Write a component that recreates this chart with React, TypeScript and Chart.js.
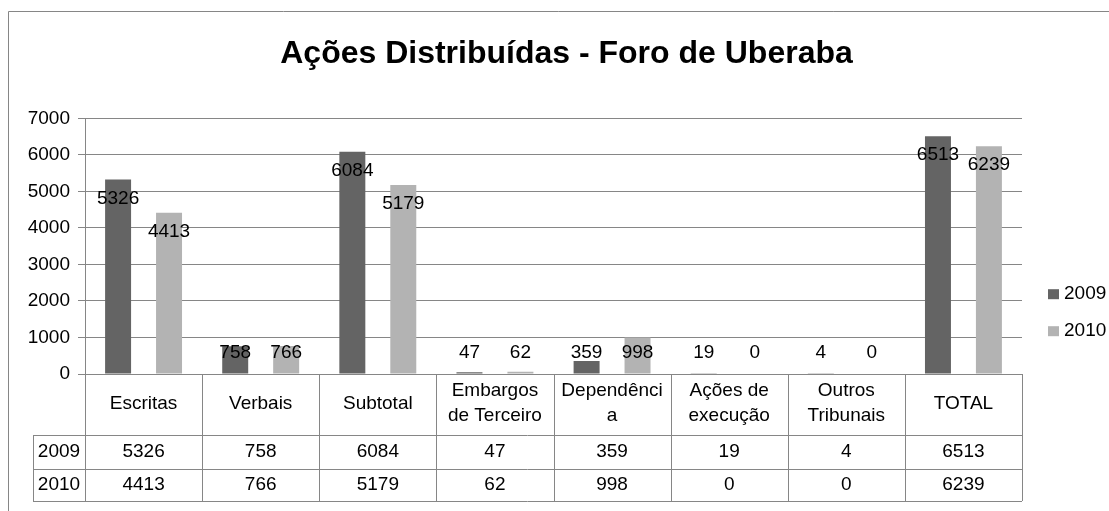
import React, { useEffect, useRef } from "react";
import { Chart, registerables } from "chart.js";

Chart.register(...registerables);

const chartTitle = "Ações Distribuídas - Foro de Uberaba";
const categories: string[][] = [
  ["Escritas"],
  ["Verbais"],
  ["Subtotal"],
  ["Embargos", "de Terceiro"],
  ["Dependênci", "a"],
  ["Ações de", "execução"],
  ["Outros", "Tribunais"],
  ["TOTAL"],
];
const seriesNames = ["2009", "2010"];
const values2009 = [5326, 758, 6084, 47, 359, 19, 4, 6513];
const values2010 = [4413, 766, 5179, 62, 998, 0, 0, 6239];
const seriesColors = ["#646464", "#b3b3b3"];
const yMin = 0;
const yMax = 7000;
const yStep = 1000;

const FONT = "'Liberation Sans', Arial, Helvetica, sans-serif";
const LINE = "#868686";

const px = (v: number) => Math.round(v) + 0.5;

const excelPlugin = {
  id: "excelExtras",
  afterDatasetsDraw(chart: any) {
    const ctx = chart.ctx;
    const yScale = chart.scales.y;
    const base = yScale.bottom;
    ctx.save();
    ctx.font = `19px ${FONT}`;
    ctx.fillStyle = "#000";
    ctx.textAlign = "center";
    ctx.textBaseline = "middle";
    chart.data.datasets.forEach((ds: any, di: number) => {
      const meta = chart.getDatasetMeta(di);
      meta.data.forEach((bar: any, i: number) => {
        const y = Math.min(bar.y + 19, base - 21);
        ctx.fillText(String(ds.data[i]), bar.x, y);
      });
    });
    ctx.restore();
  },
  afterDraw(chart: any) {
    const ctx = chart.ctx;
    const xScale = chart.scales.x;
    const yScale = chart.scales.y;
    const n = chart.data.labels.length;
    const half = (xScale.getPixelForValue(1) - xScale.getPixelForValue(0)) / 2;
    const bounds: number[] = [];
    for (let k = 0; k < n; k++) bounds.push(xScale.getPixelForValue(k) - half);
    bounds.push(xScale.getPixelForValue(n - 1) + half);

    const top = yScale.bottom;
    const headerBottom = top + 61;
    const row1Bottom = headerBottom + 34;
    const row2Bottom = row1Bottom + 32;
    const labelLeft = 33;

    ctx.save();
    ctx.strokeStyle = LINE;
    ctx.lineWidth = 1;

    // outer chart border
    ctx.beginPath();
    ctx.moveTo(8.5, chart.height);
    ctx.lineTo(8.5, 11.5);
    ctx.lineTo(chart.width, 11.5);
    ctx.stroke();

    // table lines
    ctx.beginPath();
    bounds.forEach((b, k) => {
      ctx.moveTo(px(b), k === 0 ? yScale.top : top);
      ctx.lineTo(px(b), row2Bottom);
    });
    [headerBottom, row1Bottom, row2Bottom].forEach((y) => {
      ctx.moveTo(labelLeft, px(y));
      ctx.lineTo(bounds[n], px(y));
    });
    ctx.moveTo(px(labelLeft), headerBottom);
    ctx.lineTo(px(labelLeft), row2Bottom);
    ctx.stroke();

    // header texts
    ctx.fillStyle = "#000";
    ctx.font = `19px ${FONT}`;
    ctx.textAlign = "center";
    ctx.textBaseline = "middle";
    const headerMid = (top + headerBottom) / 2 - 1;
    chart.data.labels.forEach((lab: any, i: number) => {
      const lines = Array.isArray(lab) ? lab : [lab];
      const cx = (bounds[i] + bounds[i + 1]) / 2;
      const lh = 25;
      lines.forEach((t: string, j: number) => {
        const y = headerMid + (j - (lines.length - 1) / 2) * lh;
        ctx.fillText(t, cx, y);
      });
    });

    // rows
    const rowMids = [(headerBottom + row1Bottom) / 2, (row1Bottom + row2Bottom) / 2];
    chart.data.datasets.forEach((ds: any, di: number) => {
      const y = rowMids[di];
      ctx.fillText(ds.label, (labelLeft + bounds[0]) / 2, y);
      ds.data.forEach((v: number, i: number) => {
        ctx.fillText(String(v), (bounds[i] + bounds[i + 1]) / 2, y);
      });
    });

    // legend
    const legX = chart.chartArea.right + 26;
    const legMid = (yScale.top + row2Bottom) / 2 + 3;
    ctx.textAlign = "left";
    chart.data.datasets.forEach((ds: any, di: number) => {
      const cy = legMid + (di - 0.5) * 37;
      ctx.fillStyle = ds.backgroundColor;
      ctx.fillRect(legX, cy - 5, 11, 10);
      ctx.fillStyle = "#000";
      ctx.fillText(ds.label, legX + 16, cy);
    });
    ctx.restore();
  },
};

export default function App() {
  const ref = useRef<HTMLCanvasElement | null>(null);
  useEffect(() => {
    if (!ref.current) return;
    const chart = new Chart(ref.current, {
      type: "bar",
      data: {
        labels: categories,
        datasets: [
          { label: seriesNames[0], data: values2009, backgroundColor: seriesColors[0], categoryPercentage: 0.87, barPercentage: 0.51 },
          { label: seriesNames[1], data: values2010, backgroundColor: seriesColors[1], categoryPercentage: 0.87, barPercentage: 0.51 },
        ],
      },
      options: {
        responsive: false,
        animation: false,
        layout: { padding: { left: 24, right: 0, top: 0, bottom: 0 } },
        plugins: {
          legend: { display: false },
          tooltip: { enabled: false },
          title: {
            display: true,
            text: chartTitle,
            color: "#000",
            font: { family: FONT, size: 32, weight: "bold" },
            padding: { top: 35, bottom: 45 },
          },
        },
        scales: {
          x: {
            type: "category",
            ticks: { display: false },
            grid: { display: false },
            border: { display: false },
            afterFit: (s: any) => { s.height = 137; },
          },
          y: {
            min: yMin,
            max: yMax,
            ticks: {
              stepSize: yStep,
              color: "#000",
              padding: 8,
              font: { family: FONT, size: 19 },
              callback: (v: any) => String(v),
            },
            grid: { color: LINE, tickLength: 7, drawTicks: true },
            border: { display: true, color: LINE },
            afterFit: (s: any) => { s.width = 61; },
          },
          r: {
            type: "linear",
            position: "right",
            ticks: { display: false },
            grid: { display: false },
            border: { display: false },
            afterFit: (s: any) => { s.width = 87; },
          },
        },
      },
      plugins: [excelPlugin],
    });
    return () => chart.destroy();
  }, []);
  return (
    <canvas
      ref={ref}
      width={1109}
      height={511}
      style={{ position: "absolute", left: 0, top: 0, width: 1109, height: 511, background: "#fff" }}
    />
  );
}
